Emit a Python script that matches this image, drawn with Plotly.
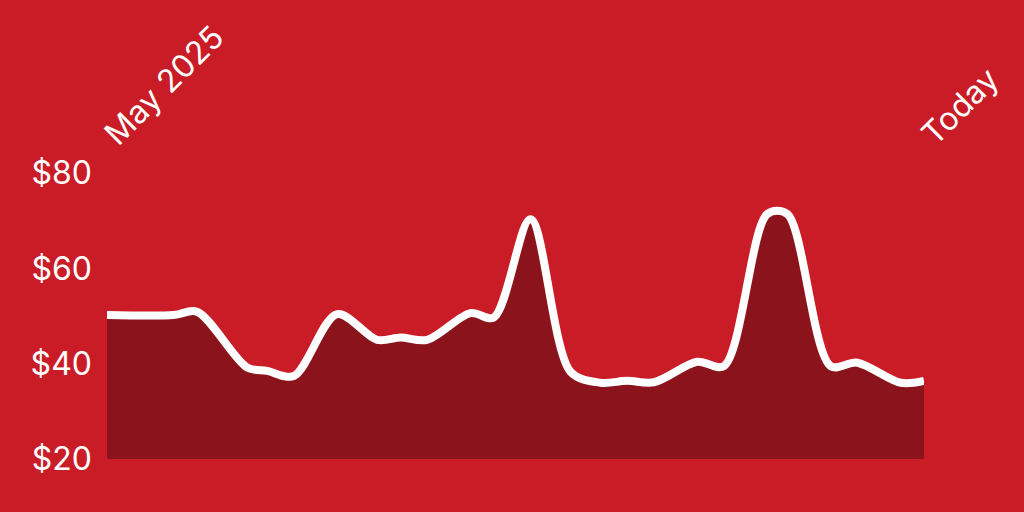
import plotly.graph_objects as go

# days since start (May 2025) and price in dollars
days = [0, 20, 27, 42, 48, 56, 69, 81, 88, 96, 109, 116, 127, 139, 148, 156, 164,
        177, 185, 198, 204, 217, 225, 238, 245]
prices = [50.2, 50.2, 50.9, 39.2, 38.5, 37.4, 50.4, 45.0, 45.5, 45.0, 50.6, 49.7, 70.3,
          38.3, 36.0, 36.4, 36.1, 40.4, 39.5, 71.4, 71.4, 39.5, 40.2, 36.0, 36.4]

x_tick_vals = [0, 245]
x_tick_text = ["May 2025", "Today"]
y_tick_vals = [20, 40, 60, 80]
y_tick_text = ["$20", "$40", "$60", "$80"]

BG = "#C91C27"
FILL = "#8B141C"

fig = go.Figure()
fig.add_trace(go.Scatter(
    x=days, y=prices, mode="lines",
    line=dict(color="white", width=8, shape="spline", smoothing=0.9),
    fill="tozeroy", fillcolor=FILL, hoverinfo="skip",
))

fig.update_layout(
    width=1024, height=512,
    paper_bgcolor=BG, plot_bgcolor=BG,
    margin=dict(l=107, r=100, t=173, b=53),
    showlegend=False,
    font=dict(family="Inter, Liberation Sans, Arial, sans-serif", color="white", size=32),
)
fig.update_xaxes(
    side="top", range=[0, 245], tickvals=x_tick_vals, ticktext=x_tick_text,
    tickangle=-45, showgrid=False, zeroline=False, showline=False, ticks="",
    tickfont=dict(size=32, color="white"), ticklabelstandoff=14,
)
fig.update_yaxes(
    range=[20, 80], tickvals=y_tick_vals, ticktext=y_tick_text,
    showgrid=False, zeroline=False, showline=False, ticks="",
    tickfont=dict(size=32, color="white"), ticklabelstandoff=14,
)

fig.write_html("out.html", config={"displayModeBar": False},
               post_script="document.body.style.margin='0';")
